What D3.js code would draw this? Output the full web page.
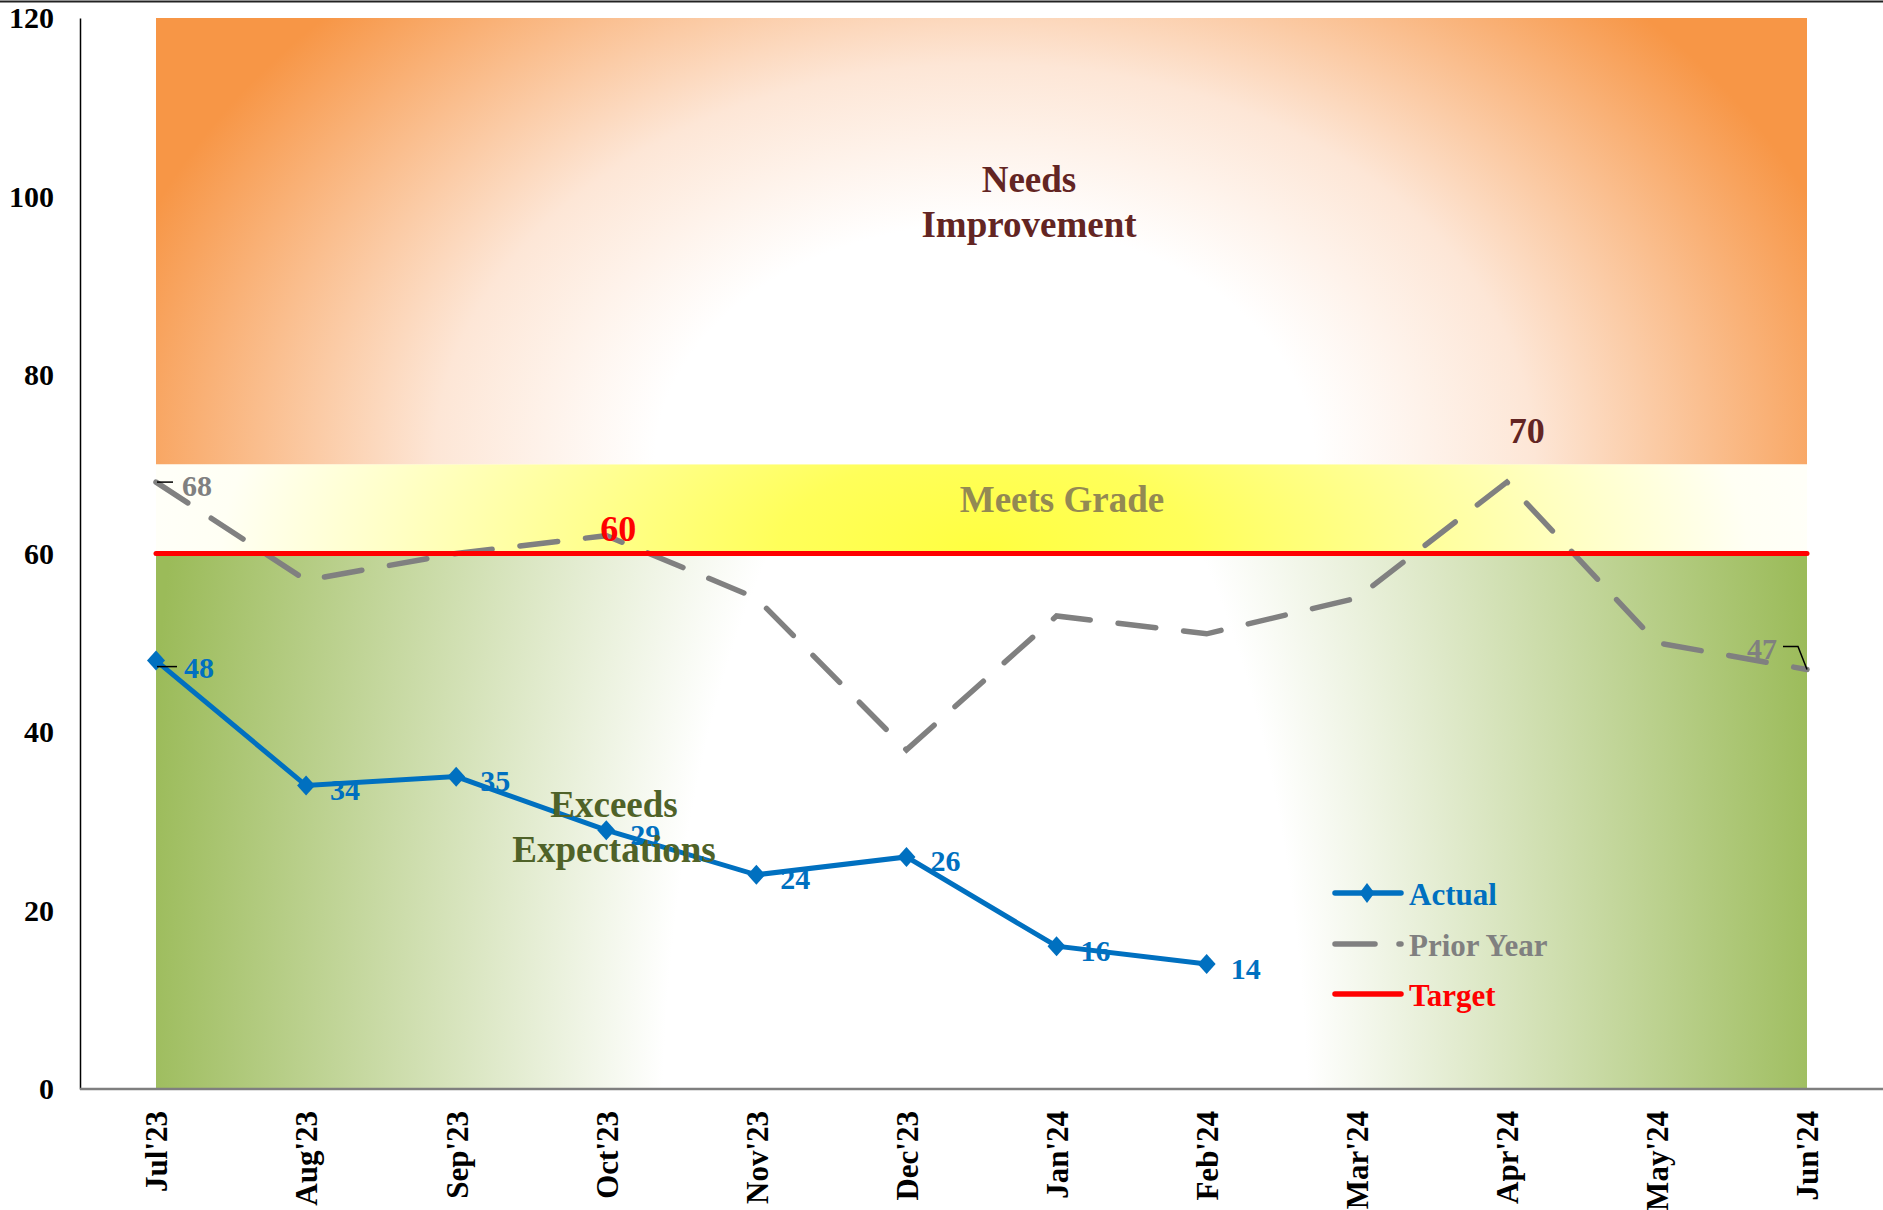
<!DOCTYPE html>
<html lang="en">
<head>
<meta charset="utf-8">
<title>Chart</title>
<script src="https://d3js.org/d3.v7.min.js"></script>
<style>
  html, body { margin: 0; padding: 0; background: #fff; }
  svg text { font-family: "Liberation Serif", "Times New Roman", serif; font-weight: bold; }
</style>
</head>
<body>
<div id="chart"></div>
<script>
  // data
  var months = ["Jul'23", "Aug'23", "Sep'23", "Oct'23", "Nov'23", "Dec'23",
                "Jan'24", "Feb'24", "Mar'24", "Apr'24", "May'24", "Jun'24"];
  var actual = [48, 34, 35, 29, 24, 26, 16, 14];
  var priorYear = [68, 57, 60, 62, 55, 38, 53, 51, 55, 68, 50, 47];
  var target = [60, 60, 60, 60, 60, 60, 60, 60, 60, 60, 60, 60];
  var bandTops = [60, 70, 120];   // Exceeds, Meets, Needs
  var yTicks = [0, 20, 40, 60, 80, 100, 120];

  var W = 1883, H = 1210;

  var svg = d3.select("#chart").append("svg")
    .attr("width", W).attr("height", H);

  var x = d3.scalePoint().domain(months).range([156, 1807]);
  var y = d3.scaleLinear().domain([0, 120]).range([1089, 18]);

  var defs = svg.append("defs");

  // gradients (elliptical radial, like the excel fills)
  function radial(id, cx, cy, sx, sy, stops) {
    var g = defs.append("radialGradient").attr("id", id)
      .attr("gradientUnits", "userSpaceOnUse")
      .attr("cx", 0).attr("cy", 0).attr("r", 1)
      .attr("gradientTransform", "translate(" + cx + "," + cy + ") scale(" + sx + "," + sy + ")");
    stops.forEach(function(s) {
      g.append("stop").attr("offset", s[0]).attr("stop-color", s[1]);
    });
  }
  radial("gGreen", 985, 1150, 850, 2108, [[0, "#ffffff"], [0.38, "#ffffff"], [1, "#9bbb59"]]);
  radial("gYellow", 985, 553, 830, 400, [[0, "#ffff40"], [0.25, "#ffff5a"], [0.92, "#fffff4"], [1, "#fffff8"]]);
  radial("gOrange", 985, 464, 1100, 800,
    [[0, "#ffffff"], [0.3, "#ffffff"], [0.5, "#fde6d6"], [0.82, "#f79646"], [1, "#f79646"]]);

  var fills = ["url(#gGreen)", "url(#gYellow)", "url(#gOrange)"];

  // stacked bands
  bandTops.forEach(function(top, i) {
    var bottom = i === 0 ? 0 : bandTops[i - 1];
    var area = d3.area()
      .x(function(d) { return x(d); })
      .y0(y(bottom))
      .y1(y(top));
    svg.append("path")
      .datum(months)
      .attr("d", area)
      .attr("fill", fills[i]);
  });

  // top border line
  svg.append("line")
    .attr("x1", 0).attr("x2", W).attr("y1", 1.5).attr("y2", 1.5)
    .attr("stroke", "#222").attr("stroke-width", 2);

  // y axis
  var yAxis = svg.append("g")
    .attr("transform", "translate(80,0)")
    .call(d3.axisLeft(y).tickValues(yTicks).tickSize(0).tickPadding(26));
  yAxis.select(".domain").attr("stroke", "#000").attr("stroke-width", 1.5);
  yAxis.selectAll("text").attr("font-size", 30).attr("fill", "#000")
    .attr("font-family", "Liberation Serif, Times New Roman, serif").attr("font-weight", "bold");

  // x axis
  var xAxis = svg.append("g")
    .attr("transform", "translate(0," + y(0) + ")")
    .call(d3.axisBottom(x).tickSize(0));
  xAxis.select(".domain").remove();
  xAxis.selectAll("text")
    .attr("transform", "rotate(-90)")
    .attr("x", -22).attr("y", 0).attr("dy", "0.35em")
    .attr("text-anchor", "end")
    .attr("font-size", 31).attr("fill", "#000")
    .attr("font-family", "Liberation Serif, Times New Roman, serif").attr("font-weight", "bold");
  svg.append("line")
    .attr("x1", 80).attr("x2", W).attr("y1", y(0)).attr("y2", y(0))
    .attr("stroke", "#7f7f7f").attr("stroke-width", 2.5);

  var line = d3.line()
    .x(function(d, i) { return x(months[i]); })
    .y(function(d) { return y(d); });

  // prior year
  svg.append("path")
    .datum(priorYear)
    .attr("d", line)
    .attr("fill", "none")
    .attr("stroke", "#808080")
    .attr("stroke-width", 5.5)
    .attr("stroke-linecap", "round")
    .attr("stroke-dasharray", "38,28");

  // target
  svg.append("path")
    .datum(target)
    .attr("d", line)
    .attr("fill", "none")
    .attr("stroke", "#ff0000")
    .attr("stroke-width", 5)
    .attr("stroke-linecap", "round");

  // actual
  svg.append("path")
    .datum(actual)
    .attr("d", line)
    .attr("fill", "none")
    .attr("stroke", "#0070c0")
    .attr("stroke-width", 5);

  var diamond = "M0,-10L9,0L0,10L-9,0Z";
  svg.selectAll(".marker")
    .data(actual)
    .enter().append("path")
    .attr("class", "marker")
    .attr("d", diamond)
    .attr("transform", function(d, i) { return "translate(" + x(months[i]) + "," + y(d) + ")"; })
    .attr("fill", "#0070c0");

  // data labels
  svg.selectAll(".alabel")
    .data(actual)
    .enter().append("text")
    .attr("class", "alabel")
    .attr("x", function(d, i) { return x(months[i]) + (i === 0 ? 28 : 24); })
    .attr("y", function(d, i) { return y(d) + (i === 0 ? 7 : 4); })
    .attr("dominant-baseline", "central")
    .attr("font-size", 30)
    .attr("fill", "#0070c0")
    .text(function(d) { return d; });

  // leader lines
  svg.append("line")
    .attr("x1", x(months[0]) + 1).attr("x2", x(months[0]) + 21)
    .attr("y1", y(actual[0]) + 6).attr("y2", y(actual[0]) + 6)
    .attr("stroke", "#000").attr("stroke-width", 1.5);
  svg.append("line")
    .attr("x1", x(months[0]) + 1).attr("x2", x(months[0]) + 17)
    .attr("y1", y(priorYear[0])).attr("y2", y(priorYear[0]))
    .attr("stroke", "#000").attr("stroke-width", 1.5);
  svg.append("polyline")
    .attr("points", [[x(months[11]) - 24, y(priorYear[11]) - 23],
                     [x(months[11]) - 9, y(priorYear[11]) - 23],
                     [x(months[11]), y(priorYear[11])]].join(" "))
    .attr("fill", "none").attr("stroke", "#000").attr("stroke-width", 1.5);

  svg.append("text")
    .attr("x", x(months[0]) + 26).attr("y", y(priorYear[0]) + 3)
    .attr("dominant-baseline", "central")
    .attr("font-size", 30).attr("fill", "#808080")
    .text(priorYear[0]);
  svg.append("text")
    .attr("x", x(months[11]) - 30).attr("y", y(priorYear[11]) - 21)
    .attr("dominant-baseline", "central")
    .attr("text-anchor", "end")
    .attr("font-size", 30).attr("font-weight", "normal").attr("fill", "#808080")
    .text(priorYear[11]);

  // target label and band boundary label
  svg.append("text")
    .attr("x", x(months[3]) + 12).attr("y", y(target[3]) - 25)
    .attr("dominant-baseline", "central").attr("text-anchor", "middle")
    .attr("font-size", 36).attr("fill", "#ff0000")
    .text(target[3]);
  svg.append("text")
    .attr("x", x(months[9]) + 20).attr("y", y(bandTops[1]) - 33)
    .attr("dominant-baseline", "central").attr("text-anchor", "middle")
    .attr("font-size", 36).attr("fill", "#632523")
    .text(bandTops[1]);

  // band names
  function bandLabel(lines, cx, cy, color) {
    var t = svg.append("text")
      .attr("text-anchor", "middle")
      .attr("font-size", 37)
      .attr("fill", color);
    lines.forEach(function(s, i) {
      t.append("tspan").attr("x", cx).attr("y", cy + i * 45).text(s);
    });
  }
  bandLabel(["Needs", "Improvement"], 1029, 192, "#632523");
  bandLabel(["Meets Grade"], 1062, 512, "#938953");
  bandLabel(["Exceeds", "Expectations"], 614, 817, "#4f6228");

  // legend
  var legend = svg.append("g").attr("transform", "translate(1333,0)");
  var rows = [
    {name: "Actual", color: "#0070c0", y: 893},
    {name: "Prior Year", color: "#808080", y: 944},
    {name: "Target", color: "#ff0000", y: 994}
  ];
  rows.forEach(function(r, i) {
    var ln = legend.append("line")
      .attr("x1", 2).attr("x2", 68).attr("y1", r.y).attr("y2", r.y)
      .attr("stroke", r.color).attr("stroke-width", 5.5)
      .attr("stroke-linecap", "round");
    if (i === 1) ln.attr("stroke-dasharray", "40,24");
    if (i === 0) {
      legend.append("path").attr("d", "M0,-10L7.5,0L0,10L-7.5,0Z")
        .attr("transform", "translate(34," + r.y + ")").attr("fill", r.color);
    }
    legend.append("text")
      .attr("x", 76).attr("y", r.y + 1)
      .attr("dominant-baseline", "central")
      .attr("font-size", 31)
      .attr("fill", r.color)
      .text(r.name);
  });
</script>
</body>
</html>
